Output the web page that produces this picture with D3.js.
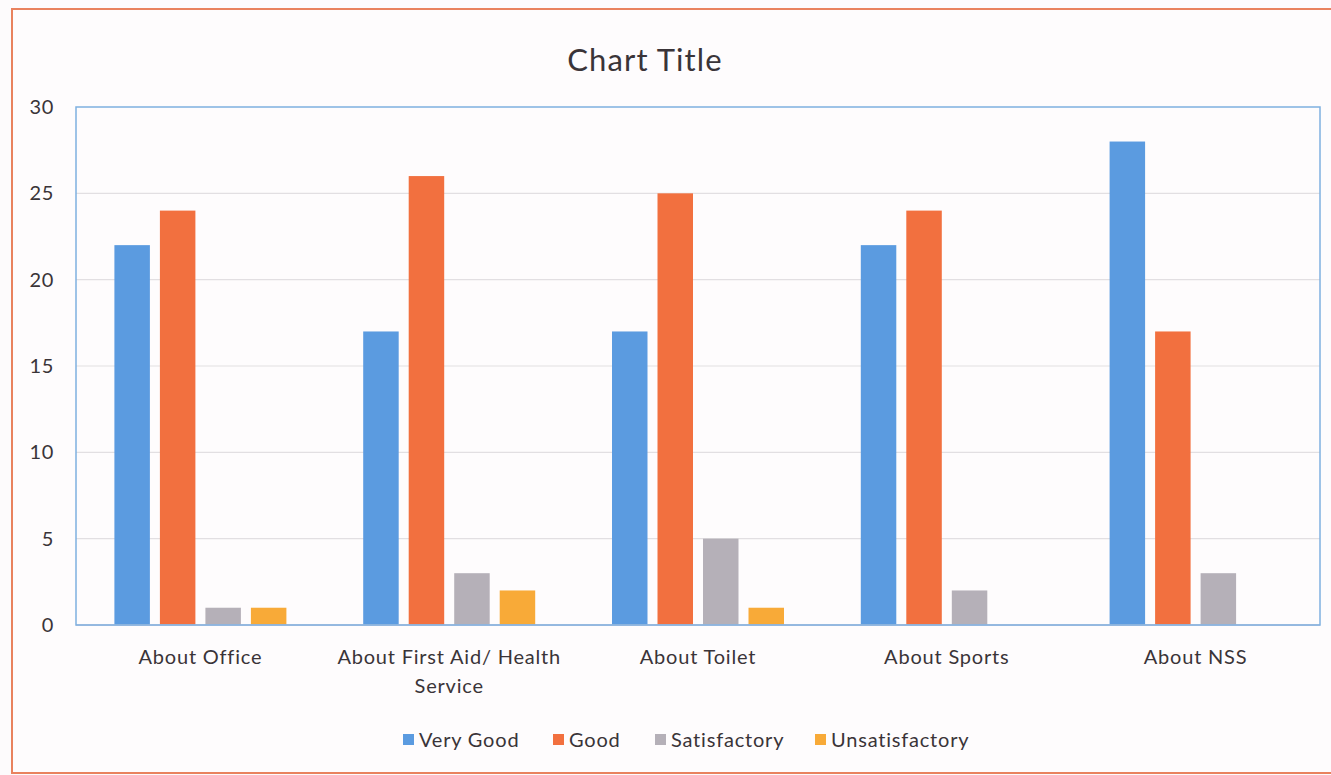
<!DOCTYPE html>
<html>
<head>
<meta charset="utf-8">
<script src="https://cdn.jsdelivr.net/npm/d3@7/dist/d3.min.js"></script>
<style>
  html, body { margin: 0; padding: 0; background: #fdfbfc; }
  svg { display: block; }
  text { font-family: Lato, "Open Sans", sans-serif; fill: #3a3438; }
</style>
</head>
<body>
<svg id="chart" width="1331" height="775"></svg>
<script>
const categories = ["About Office", "About First Aid/ Health Service", "About Toilet", "About Sports", "About NSS"];
const seriesNames = ["Very Good", "Good", "Satisfactory", "Unsatisfactory"];
const veryGood = [22, 17, 17, 22, 28];
const good = [24, 26, 25, 24, 17];
const satisfactory = [1, 3, 5, 2, 3];
const unsatisfactory = [1, 2, 1, 0, 0];
const yTicks = [0, 5, 10, 15, 20, 25, 30];
const colors = ["#5b9be0", "#f2703f", "#b5b0b8", "#f8aa38"];

const seriesValues = [veryGood, good, satisfactory, unsatisfactory];

const svg = d3.select("#chart");

// outer chart border
svg.append("rect").attr("x", 12).attr("y", 9).attr("width", 1340).attr("height", 764)
  .attr("fill", "#fefcfd").attr("stroke", "#e9825e").attr("stroke-width", 2);

const plot = { left: 76, right: 1320, top: 107, bottom: 625 };

const y = d3.scaleLinear().domain([0, 30]).range([plot.bottom, plot.top]);
const x0 = d3.scaleBand().domain(categories).range([plot.left, plot.right]).padding(0);
const groupW = 172;
const x1 = d3.scaleBand().domain(seriesNames)
  .range([(x0.bandwidth() - groupW) / 2, (x0.bandwidth() + groupW) / 2])
  .paddingInner(0.22).paddingOuter(0);
const color = d3.scaleOrdinal().domain(seriesNames).range(colors);

// title
svg.append("text").attr("x", 645).attr("y", 71).attr("text-anchor", "middle")
  .style("font-size", "31px").style("letter-spacing", "1.1px").text("Chart Title");

// gridlines
svg.append("g").selectAll("line").data(yTicks.filter(d => d > 0 && d < 30)).join("line")
  .attr("x1", plot.left).attr("x2", plot.right)
  .attr("y1", d => y(d)).attr("y2", d => y(d))
  .attr("stroke", "#e2dfe2").attr("stroke-width", 1.2);

// y axis labels
const yAxis = d3.axisLeft(y).tickValues(yTicks).tickSize(0).tickPadding(22);
const gy = svg.append("g").attr("transform", `translate(${plot.left},0)`).call(yAxis);
gy.select(".domain").remove();
gy.selectAll("text").style("font-size", "20px").style("font-family", "Lato, 'Open Sans', sans-serif")
  .style("letter-spacing", "0.6px").attr("fill", "#3a3438");

// bars
const groups = svg.append("g").selectAll("g").data(categories).join("g")
  .attr("transform", d => `translate(${x0(d)},0)`);
groups.selectAll("rect").data((c, i) => seriesNames.map((s, j) => ({ s, v: seriesValues[j][i] })))
  .join("rect")
  .attr("x", d => x1(d.s)).attr("width", x1.bandwidth())
  .attr("y", d => y(d.v)).attr("height", d => y(0) - y(d.v))
  .attr("fill", d => color(d.s));

// x axis line
svg.append("line").attr("x1", plot.left).attr("x2", plot.right)
  .attr("y1", plot.bottom).attr("y2", plot.bottom)
  .attr("stroke", "#c9c6d6").attr("stroke-width", 1.5);

// plot area border
svg.append("rect").attr("x", plot.left).attr("y", plot.top)
  .attr("width", plot.right - plot.left).attr("height", plot.bottom - plot.top)
  .attr("fill", "none").attr("stroke", "#7fb0e0").attr("stroke-width", 1.5);

// x axis labels with wrap
const xAxis = d3.axisBottom(x0).tickSize(0).tickPadding(0);
const gx = svg.append("g").attr("transform", `translate(0,${plot.bottom})`).call(xAxis);
gx.select(".domain").remove();
gx.selectAll("text").each(function(d) {
  const t = d3.select(this);
  t.text(null).attr("y", 0).attr("dy", null)
    .style("font-size", "20px").style("letter-spacing", "0.8px")
    .style("font-family", "Lato, 'Open Sans', sans-serif").attr("fill", "#3a3438");
  const lines = d === "About First Aid/ Health Service" ? ["About First Aid/ Health", "Service"] : [d];
  lines.forEach((ln, i) => {
    t.append("tspan").attr("x", 0).attr("y", 39 + i * 29).text(ln);
  });
});

// legend
const legendItems = [
  { s: "Very Good", x: 403 },
  { s: "Good", x: 553 },
  { s: "Satisfactory", x: 655 },
  { s: "Unsatisfactory", x: 815 }
];
const lg = svg.append("g").selectAll("g").data(legendItems).join("g")
  .attr("transform", d => `translate(${d.x},740)`);
lg.append("rect").attr("x", 0).attr("y", -6).attr("width", 11).attr("height", 11)
  .attr("fill", d => color(d.s));
lg.append("text").attr("x", 16).attr("y", 7).style("font-size", "20px")
  .style("letter-spacing", "0.8px").text(d => d.s);
</script>
</body>
</html>
